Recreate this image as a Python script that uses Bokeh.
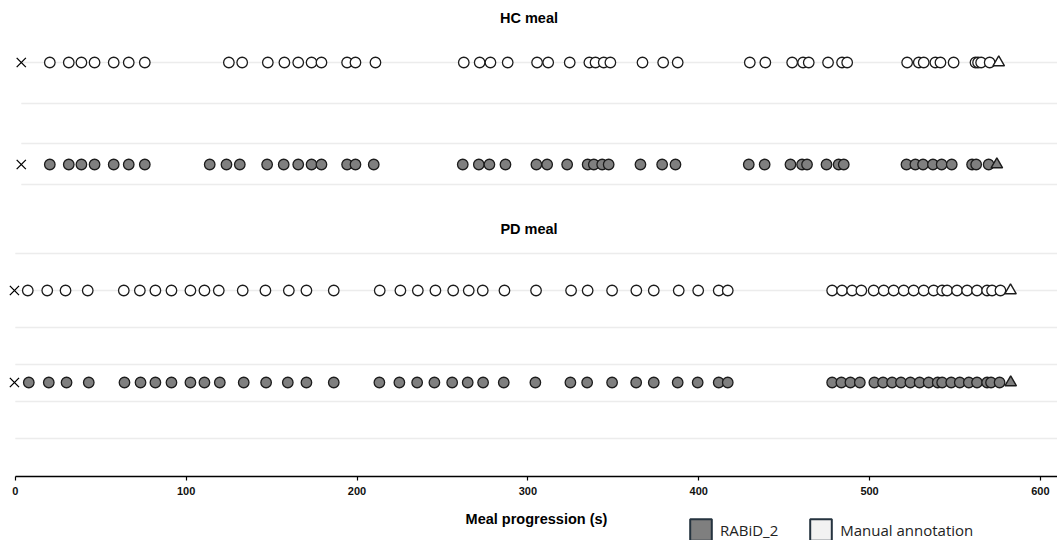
from bokeh.plotting import figure
from bokeh.models import Range1d, FixedTicker, Legend, LegendItem
from bokeh.core.properties import value
from bokeh.embed import file_html
from bokeh.resources import INLINE

# ---------------- data (seconds) ----------------
hc_manual = [20.2, 31.3, 38.7, 46.4, 57.6, 66.4, 75.8, 125.0, 132.8, 147.8, 157.5,
             165.6, 173.4, 179.2, 194.2, 199.1, 210.8, 262.5, 271.8, 278.1, 288.2,
             305.4, 311.9, 324.5, 336.0, 339.6, 344.4, 348.3, 367.1, 379.2, 387.7,
             429.9, 439.0, 454.7, 461.1, 464.4, 475.7, 483.9, 486.9, 522.0, 528.8,
             531.7, 538.5, 541.5, 549.2, 562.0, 563.5, 565.3, 570.3]
hc_rabid = [20.2, 31.3, 38.7, 46.4, 57.6, 66.4, 75.8, 113.8, 123.6, 131.4, 147.4,
            157.1, 165.6, 173.4, 179.2, 194.2, 199.1, 209.8, 261.9, 271.3, 277.5,
            286.9, 305.0, 311.3, 323.0, 335.0, 338.6, 343.5, 347.3, 365.9, 378.6,
            386.4, 429.3, 438.6, 453.7, 460.5, 463.4, 474.8, 481.9, 484.9, 521.6,
            526.8, 531.3, 537.1, 542.2, 548.1, 560.0, 562.4, 569.7]
pd_manual = [7.3, 18.7, 29.4, 42.4, 63.5, 72.9, 82.0, 91.4, 102.5, 110.7, 119.1,
             133.1, 146.4, 160.1, 170.4, 186.4, 213.3, 225.4, 235.6, 245.9, 256.3,
             265.4, 273.6, 286.3, 304.8, 325.3, 335.0, 349.3, 363.5, 373.7, 388.3,
             399.7, 411.7, 417.0, 478.1, 483.9, 489.8, 495.2, 502.4, 508.3, 514.1,
             520.0, 525.8, 531.7, 537.5, 542.5, 545.4, 551.2, 557.1, 562.9, 568.8,
             571.7, 576.6]
pd_rabid = [7.9, 19.6, 30.0, 43.0, 63.9, 73.3, 82.0, 91.4, 102.5, 110.7, 119.7,
            133.7, 146.8, 159.5, 170.4, 186.4, 213.1, 224.8, 235.2, 245.3, 255.7,
            264.8, 273.8, 285.9, 304.4, 324.9, 334.7, 349.3, 363.4, 373.7, 387.7,
            399.4, 411.7, 417.0, 478.1, 483.5, 488.8, 494.3, 502.8, 507.9, 513.2,
            518.4, 523.9, 529.3, 534.6, 539.9, 542.5, 547.8, 552.8, 558.1, 562.9,
            568.8, 571.1, 576.1]
# meal start (x) and end (triangle): [manual, RABiD_2]
hc_start = [3.5, 3.5]
hc_end = [575.6, 574.5]
pd_start = [-0.5, -0.5]
pd_end = [582.5, 582.6]

panel_titles = ["HC meal", "PD meal"]
series_names = ["RABiD_2", "Manual annotation"]
x_ticks = [0, 100, 200, 300, 400, 500, 600]

# ---------------- layout (pixel rows on a flipped y range) ----------------
ROW_Y = {"hc_manual": 62, "hc_rabid": 164, "pd_manual": 290, "pd_rabid": 382}
TITLE_Y = {"HC meal": 17, "PD meal": 228}
HC_GRID = [62, 103, 143, 184]
PD_GRID = [253, 290, 327, 364, 401, 438]
AXIS_Y = 476

W, H = 1057, 540
x_start, x_end = -8.66, 610.0

p = figure(width=W, height=H, x_range=Range1d(x_start, x_end), y_range=Range1d(H, 0),
           output_backend="svg", toolbar_location=None, y_axis_location=None,
           min_border_left=0, min_border_right=0, min_border_top=0, min_border_bottom=0)
p.outline_line_color = None
p.grid.visible = False
p.background_fill_color = "white"

GRID_COLOR = "#ececec"
p.segment(x0=[hc_start[0]] * len(HC_GRID), x1=[x_end] * len(HC_GRID), y0=HC_GRID, y1=HC_GRID,
          line_color=GRID_COLOR, line_width=1.6)
p.segment(x0=[0] * len(PD_GRID), x1=[x_end] * len(PD_GRID), y0=PD_GRID, y1=PD_GRID,
          line_color=GRID_COLOR, line_width=1.6)

EDGE = "#1c1c1c"
GRAY = "#7f7f7f"
MS = 10.5

def row(xs, y, fill):
    p.scatter(x=xs, y=[y] * len(xs), marker="circle", size=MS, fill_color=fill,
              line_color=EDGE, line_width=1.3)

row(hc_manual, ROW_Y["hc_manual"], "white")
row(hc_rabid, ROW_Y["hc_rabid"], GRAY)
row(pd_manual, ROW_Y["pd_manual"], "white")
row(pd_rabid, ROW_Y["pd_rabid"], GRAY)

rows_y = [ROW_Y["hc_manual"], ROW_Y["hc_rabid"], ROW_Y["pd_manual"], ROW_Y["pd_rabid"]]
p.scatter(x=hc_start + pd_start, y=rows_y, marker="x", size=13, line_color="black", line_width=1.3)
p.scatter(x=hc_end + pd_end, y=rows_y, marker="triangle", size=11.5,
          fill_color=["white", GRAY, "white", GRAY], line_color=EDGE, line_width=1.4)

x_mid = (x_start + x_end) / 2
for t in panel_titles:
    p.text(x=[x_mid], y=[TITLE_Y[t]], text=[t], text_align="center", text_baseline="middle",
           text_font=value("Liberation Sans"), text_font_style="bold", text_font_size="14.5px",
           text_color="black")

ax = p.xaxis[0]
ax.fixed_location = AXIS_Y
ax.ticker = FixedTicker(ticks=x_ticks)
ax.bounds = (0, x_end)
ax.axis_line_color = "black"
ax.axis_line_width = 1.5
ax.major_tick_line_color = "black"
ax.major_tick_line_width = 1.2
ax.major_tick_out = 4
ax.major_tick_in = 0
ax.minor_tick_out = 0
ax.minor_tick_in = 0
ax.major_label_text_font = "Liberation Sans"
ax.major_label_text_font_style = "bold"
ax.major_label_text_font_size = "11px"
ax.major_label_text_color = "#111111"
ax.major_label_standoff = 6
ax.axis_label = "Meal progression (s)"
ax.axis_label_text_font = "Liberation Sans"
ax.axis_label_text_font_style = "bold"
ax.axis_label_text_font_size = "14.5px"
ax.axis_label_text_color = "black"
ax.axis_label_standoff = 13

# legend swatches: dummy quads kept outside the visible ranges (only their legend glyphs show)
LEG_EDGE = "#25333f"
off_x = [x_start - 20]
off_y = [-20]
r1 = p.quad(left=off_x, right=[x_start - 10], top=off_y, bottom=[-30],
            fill_color=GRAY, line_color=LEG_EDGE, line_width=2)
r2 = p.quad(left=off_x, right=[x_start - 10], top=off_y, bottom=[-30],
            fill_color="#f2f2f2", line_color=LEG_EDGE, line_width=2)
legend = Legend(items=[LegendItem(label=series_names[0], renderers=[r1]),
                       LegendItem(label=series_names[1], renderers=[r2])],
                orientation="horizontal", location=(687, -3),
                glyph_width=27, glyph_height=27, label_standoff=6, spacing=29,
                padding=0, margin=0, border_line_color=None, background_fill_alpha=0,
                label_text_font="Open Sans", label_text_font_size="15px",
                label_text_color="#222222", label_height=27)
p.add_layout(legend)

open("out.html", "w").write(file_html(p, INLINE))
